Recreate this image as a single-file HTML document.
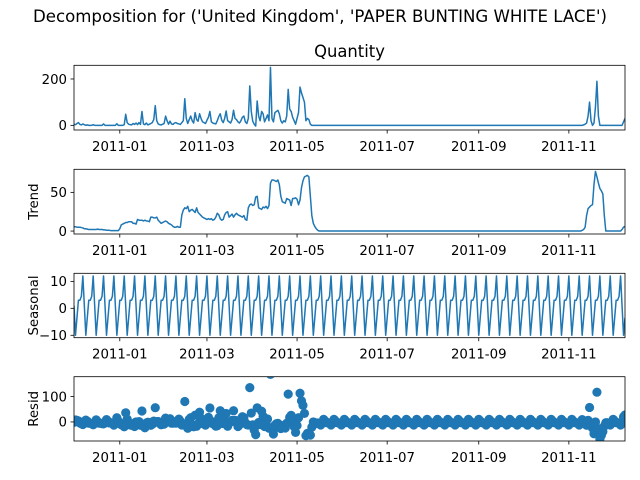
<!DOCTYPE html>
<html><head><meta charset="utf-8"><style>
body{margin:0;background:#fff;}
svg{display:block;font-family:"DejaVu Sans","Liberation Sans",sans-serif;}
</style></head><body>
<svg id="fig" width="640" height="480" viewBox="0 0 640 480">
<text x="320" y="22" text-anchor="middle" font-size="16.6">Decomposition for ('United Kingdom', 'PAPER BUNTING WHITE LACE')</text>
<text x="349.5" y="57" text-anchor="middle" font-size="16.4">Quantity</text>
</svg>
<script>
// Day index 0 = 2010-12-01
const tickDays = [31, 90, 151, 212, 274, 335];
const tickLabels = ["2011-01", "2011-03", "2011-05", "2011-07", "2011-09", "2011-11"];
const nDays = 374;
const obsEarly = [5,3,8,12,4,2,6,3,0,2, 0,0,0,3,0,0,0,0,0,0, 6,0,0,0,0,0,0,0,0,7,
 0,0,0,0,3,48,12,5,3,2, 8,4,10,3,12,4,60,6,3,10, 2,5,8,12,25,85,20,6,3,2,
 5,8,40,20,5,18,6,4,10,12, 8,6,4,12,20,115,30,8,25,40, 20,10,55,25,18,50,30,15,12,8,
 22,35,60,15,10,8,6,20,38,50, 22,12,30,62,20,15,10,25,65,30, 25,15,10,20,35,40,15,8,30,170,
 60,18,5,-3,105,40,20,60,50,15, 30,45,20,250,30,15,55,60,65,50, 20,10,20,15,40,155,70,60,35,20,
 5,30,55,165,140,120,100,20,30,25, 5];
const obsLate = [0,0,0,0,0,2,5,10,40,100, 20,0,10,80,190,40,0,0,0,0, 0,0,0,0,0,0,0,0,0,0, 0,0,15,30]; // days 340-373
const trendEarly = [5.5,5.5,5,5,5,4.5,4,3,3,2.5, 2,2,2,2,2,2,2.5,2,2,2, 1.5,1.5,1,1,1,0.5,0.5,0.5,0.5,0.5,
 0.5,3,8,9,10,11,11,12,12,12, 10,10,9,15,14,14,14,13,14,13, 13,12,18,18,17,17,18,14,12,10,
 11,12,13,12,10,9,8,6,5,5, 6,5,5,21,27,30,29,32,25,27, 28,26,24,30,24,22,20,18,17,16,
 15,16,15,16,14,15,18,23,21,16, 14,15,21,24,25,18,20,22,18,21, 23,21,20,19,18,20,15,14,30,34,
 35,33,34,44,45,30,29,28,31,30, 32,29,33,62,66,66,65,64,66,60, 45,38,37,36,42,41,40,33,42,42,
 43,41,34,40,56,65,70,71,72,70, 45,20,10,6,3,1,0,0,0,0];
const trendLate = [0,0,0,0,1,2,5,20,29,31, 33,34,60,77,70,62,55,52,48,20, 0,0,0,0,0,0,0,0,0,0, 0,2,5,6]; // days 340-373
const seasonalWeek = [1,-10,-3.5,3,3,4.5,12]; // day % 7

const observed = [], trend = [], seasonal = [], resid = [];
for (let d = 0; d < nDays; d++) {
  let o = d < obsEarly.length ? obsEarly[d] : (d >= 340 ? obsLate[d-340] : 0);
  let t = d < trendEarly.length ? trendEarly[d] : (d >= 340 ? trendLate[d-340] : 0);
  let s = seasonalWeek[d % 7];
  observed.push(o); trend.push(t); seasonal.push(s); resid.push(o - t - s);
}

const NS = "http://www.w3.org/2000/svg";
const svg = document.getElementById('fig');
const X0 = 74, X1 = 625;
const xs = d => X0 + d * (X1 - X0) / (nDays - 1);
function mk(tag, attrs, parent) { const e = document.createElementNS(NS, tag); for (const k in attrs) e.setAttribute(k, attrs[k]); (parent||svg).appendChild(e); return e; }

const panels = [
  {key:'observed', data:observed, top:65.3, bot:130, ymin:-20, ymax:259, ticks:[0,200], label:null, scatter:false},
  {key:'trend', data:trend, top:169.3, bot:234, ymin:-3.8, ymax:79.8, ticks:[0,50], label:'Trend', scatter:false},
  {key:'seasonal', data:seasonal, top:273.3, bot:337.7, ymin:-10.9, ymax:13, ticks:[-10,0,10], label:'Seasonal', scatter:false},
  {key:'resid', data:resid, top:376.7, bot:441, ymin:-75, ymax:178, ticks:[0,100], label:'Resid', scatter:true}
];

panels.forEach(p => {
  const ys = v => p.bot - (v - p.ymin) * (p.bot - p.top) / (p.ymax - p.ymin);
  const g = mk('g', {});
  
  
  const clipId = 'clip-' + p.key;
  const cp = mk('clipPath', {id: clipId}, g);
  mk('rect', {x:X0, y:p.top, width:X1-X0, height:p.bot-p.top}, cp);
  if (p.scatter) {
    const sg = mk('g', {'clip-path':'url(#'+clipId+')'}, g);
    
    
    p.data.forEach((v, d) => {
      const c = mk('circle', {cx:xs(d).toFixed(2), cy:ys(v).toFixed(2), r:4.6, fill:'#1f77b4'}, sg);
      
      
    });
  } else {
    const path = mk('path', {d: p.data.map((v,d)=> (d?'L':'M') + xs(d).toFixed(2) + ',' + ys(v).toFixed(2)).join(''),
      fill:'none', stroke:'#1f77b4', 'stroke-width':1.5, 'stroke-linejoin':'round', 'clip-path':'url(#'+clipId+')'}, g);
    
    
  }
  const frame = mk('rect', {x:X0, y:p.top, width:X1-X0, height:p.bot-p.top, fill:'none', stroke:'#000', 'stroke-width':0.8}, g);
  
  
  p.ticks.forEach(t => {
    const y = ys(t);
    mk('line', {x1:X0-3.5, x2:X0, y1:y, y2:y, stroke:'#000', 'stroke-width':0.8}, g);
    const tx = mk('text', {x:X0-7, y:y+4.8, 'text-anchor':'end', 'font-size':13.3}, g);
    tx.textContent = (t < 0 ? '\u2212' + (-t) : String(t));
    
    
  });
  tickDays.forEach((d, i) => {
    const x = xs(d);
    mk('line', {x1:x, x2:x, y1:p.bot, y2:p.bot+3.5, stroke:'#000', 'stroke-width':0.8}, g);
    const tx = mk('text', {x:x, y:p.bot+21, 'text-anchor':'middle', 'font-size':13.3}, g);
    tx.textContent = tickLabels[i];
    
    
  });
  if (p.label) {
    const cy = (p.top + p.bot) / 2;
    const lb = mk('text', {x:0, y:0, 'text-anchor':'middle', 'font-size':13.3, transform:'translate(38,'+cy+') rotate(-90)'}, g);
    lb.textContent = p.label;
    
    
  }
});
</script>
</body></html>
